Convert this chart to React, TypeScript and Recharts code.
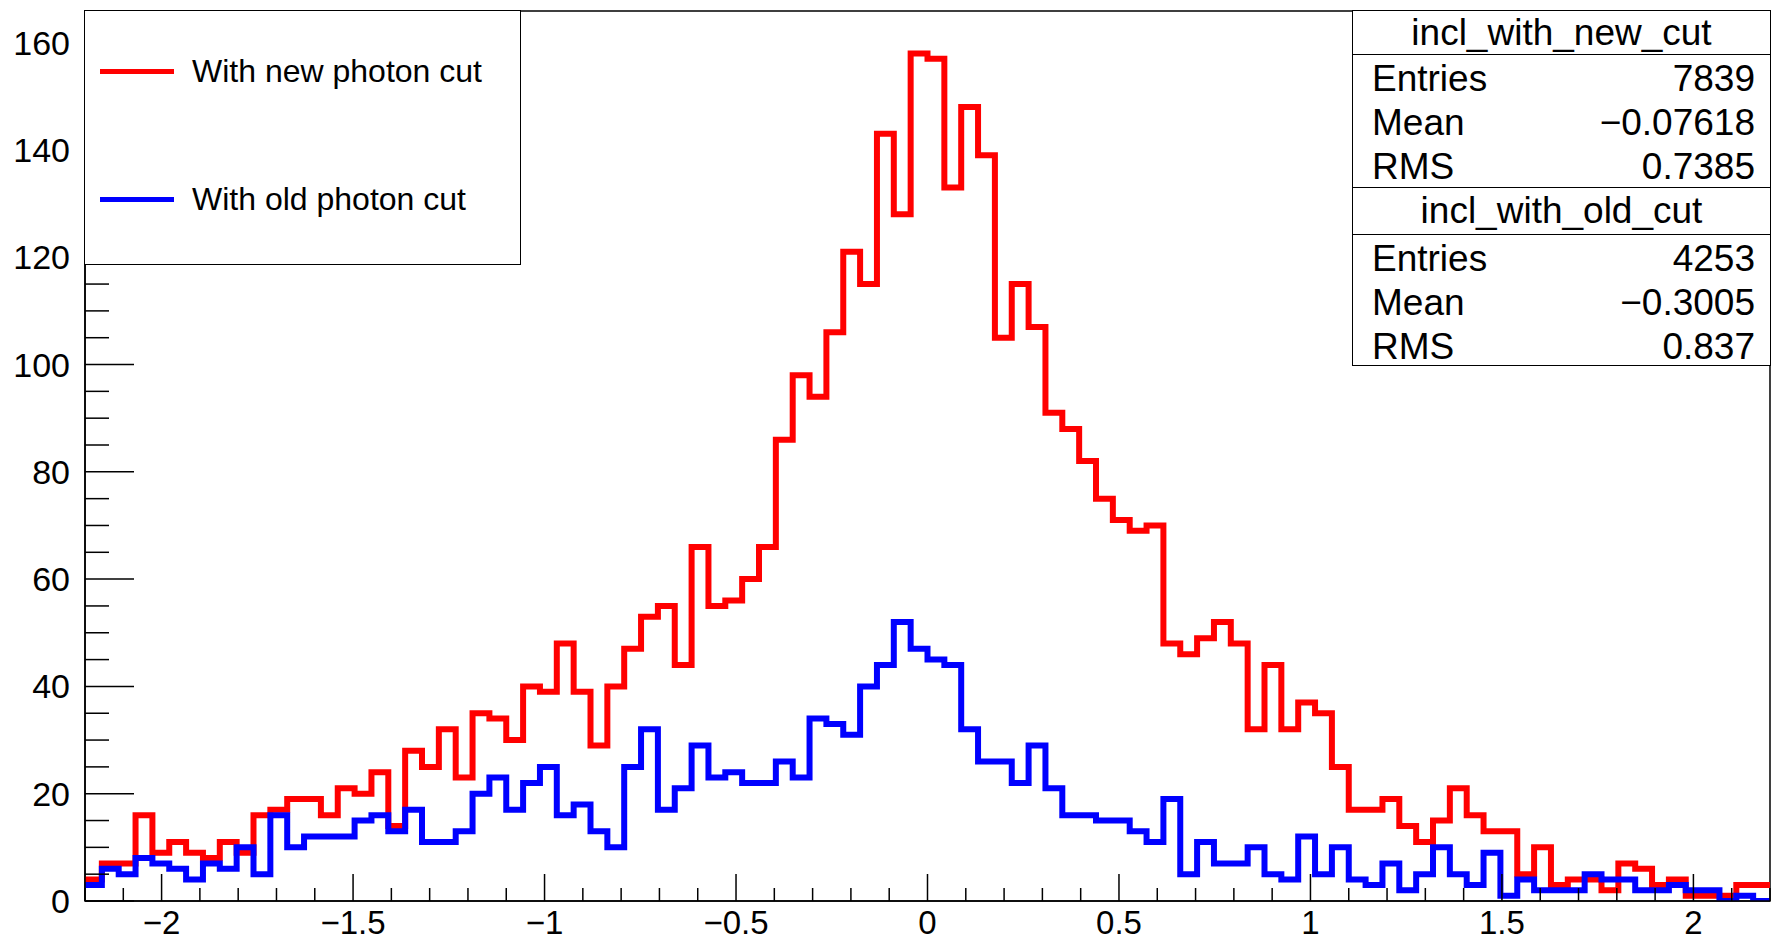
import React from "react";
import { LineChart, Line, XAxis, YAxis, ReferenceArea } from "recharts";

// histogram binning: 100 bins from -2.2 to 2.2
const binLow = -2.2;
const binWidth = 0.044;

// bin contents
const newCut = [
  4, 7, 7, 16, 9, 11, 9, 8, 11, 9,
  16, 17, 19, 19, 16, 21, 20, 24, 14, 28,
  25, 32, 23, 35, 34, 30, 40, 39, 48, 39,
  29, 40, 47, 53, 55, 44, 66, 55, 56, 60,
  66, 86, 98, 94, 106, 121, 115, 143, 128, 158,
  157, 133, 148, 139, 105, 115, 107, 91, 88, 82,
  75, 71, 69, 70, 48, 46, 49, 52, 48, 32,
  44, 32, 37, 35, 25, 17, 17, 19, 14, 11,
  15, 21, 16, 13, 13, 5, 10, 3, 4, 4,
  2, 7, 6, 3, 4, 1, 1, 1, 3, 3,
];

const oldCut = [
  3, 6, 5, 8, 7, 6, 4, 7, 6, 10,
  5, 16, 10, 12, 12, 12, 15, 16, 13, 17,
  11, 11, 13, 20, 23, 17, 22, 25, 16, 18,
  13, 10, 25, 32, 17, 21, 29, 23, 24, 22,
  22, 26, 23, 34, 33, 31, 40, 44, 52, 47,
  45, 44, 32, 26, 26, 22, 29, 21, 16, 16,
  15, 15, 13, 11, 19, 5, 11, 7, 7, 10,
  5, 4, 12, 5, 10, 4, 3, 7, 2, 5,
  10, 5, 3, 9, 1, 4, 2, 2, 2, 5,
  4, 4, 2, 2, 3, 2, 2, 0, 1, 0,
];

const xTicks = [
  -2.2, -2.1, -2, -1.9, -1.8, -1.7, -1.6, -1.5, -1.4, -1.3, -1.2, -1.1, -1,
  -0.9, -0.8, -0.7, -0.6, -0.5, -0.4, -0.3, -0.2, -0.1, 0, 0.1, 0.2, 0.3,
  0.4, 0.5, 0.6, 0.7, 0.8, 0.9, 1, 1.1, 1.2, 1.3, 1.4, 1.5, 1.6, 1.7, 1.8,
  1.9, 2, 2.1, 2.2,
];
const xLabelled = [-2, -1.5, -1, -0.5, 0, 0.5, 1, 1.5, 2];

const yTicks = [
  0, 5, 10, 15, 20, 25, 30, 35, 40, 45, 50, 55, 60, 65, 70, 75, 80, 85, 90,
  95, 100, 105, 110, 115, 120, 125, 130, 135, 140, 145, 150, 155, 160, 165,
];
const yLabelled = [0, 20, 40, 60, 80, 100, 120, 140, 160];

const legendItems = [
  { label: "With new photon cut", color: "#ff0000" },
  { label: "With old photon cut", color: "#0000ff" },
];

const statsNew = { title: "incl_with_new_cut", rows: [["Entries", "7839"], ["Mean", "\u22120.07618"], ["RMS", "0.7385"]] };
const statsOld = { title: "incl_with_old_cut", rows: [["Entries", "4253"], ["Mean", "\u22120.3005"], ["RMS", "0.837"]] };

const data = newCut.map((v, i) => ({
  x: Number((binLow + i * binWidth).toFixed(4)),
  newCut: v,
  oldCut: oldCut[i],
}));
data.push({ x: 2.2, newCut: newCut[newCut.length - 1], oldCut: oldCut[oldCut.length - 1] });

const FONT = '"Liberation Sans", Arial, Helvetica, sans-serif';

const fmt = (v: number) => (v < 0 ? "\u2212" + Math.abs(v) : String(v));
const isIn = (arr: number[], v: number) => arr.some((m) => Math.abs(m - v) < 1e-6);

const XTick = (props: any) => {
  const { x, y, payload } = props;
  const major = isIn(xLabelled, payload.value);
  return (
    <g>
      <line x1={x} x2={x} y1={y} y2={y - (major ? 27 : 13)} stroke="#000" strokeWidth={1.5} />
      {major && (
        <text x={x} y={y + 33} textAnchor="middle" fontSize={33} fontFamily={FONT} fill="#000">
          {fmt(payload.value)}
        </text>
      )}
    </g>
  );
};

const YTick = (props: any) => {
  const { x, y, payload } = props;
  const major = isIn(yLabelled, payload.value);
  return (
    <g>
      <line x1={x} x2={x + (major ? 49 : 24)} y1={y} y2={y} stroke="#000" strokeWidth={1.5} />
      {major && (
        <text x={x - 15} y={y + 12} textAnchor="end" fontSize={34} fontFamily={FONT} fill="#000">
          {payload.value}
        </text>
      )}
    </g>
  );
};

const StatsBox = ({ stats, top, height, sep }: { stats: typeof statsNew; top: number; height: number; sep: number }) => (
  <div
    style={{
      position: "absolute", left: 1352, top, width: 419, height,
      border: "1.5px solid #000", background: "#fff", boxSizing: "border-box",
    }}
  >
    <div style={{ position: "absolute", left: 0, right: 0, top: sep, borderTop: "1.5px solid #000" }} />
    <div style={{ position: "absolute", left: 0, right: 0, top: sep / 2 - 21, textAlign: "center", fontSize: 37, lineHeight: "42px" }}>
      {stats.title}
    </div>
    {stats.rows.map(([k, v], i) => (
      <React.Fragment key={k}>
        <div style={{ position: "absolute", left: 19, top: sep + 4 + i * 44, fontSize: 37, lineHeight: "42px" }}>{k}</div>
        <div style={{ position: "absolute", right: 15, top: sep + 4 + i * 44, fontSize: 37, lineHeight: "42px" }}>{v}</div>
      </React.Fragment>
    ))}
  </div>
);

export default function App() {
  return (
    <div style={{ position: "absolute", left: 0, top: 0, width: 1773, height: 941, background: "#fff", fontFamily: FONT, color: "#000", overflow: "hidden" }}>
      <LineChart width={1773} height={941} data={data} margin={{ top: 11, right: 3, bottom: 0, left: 0 }}>
        <XAxis
          dataKey="x"
          type="number"
          domain={[-2.2, 2.2]}
          ticks={xTicks}
          interval={0}
          height={40}
          tickSize={0}
          tickMargin={0}
          tickLine={false}
          axisLine={{ stroke: "#000", strokeWidth: 1.5 }}
          tick={<XTick />}
          allowDataOverflow
        />
        <YAxis
          type="number"
          domain={[0, 165.9]}
          ticks={yTicks}
          interval={0}
          width={85}
          tickSize={0}
          tickMargin={0}
          tickLine={false}
          axisLine={{ stroke: "#000", strokeWidth: 1.5 }}
          tick={<YTick />}
          allowDataOverflow
        />
        <ReferenceArea x1={-2.2} x2={2.2} y1={0} y2={165.9} fill="none" stroke="#000" strokeWidth={1.5} ifOverflow="visible" />
        <Line
          type="stepAfter"
          dataKey="newCut"
          stroke="#ff0000"
          strokeWidth={6}
          strokeLinejoin="miter"
          dot={false}
          activeDot={false}
          isAnimationActive={false}
        />
        <Line
          type="stepAfter"
          dataKey="oldCut"
          stroke="#0000ff"
          strokeWidth={6}
          strokeLinejoin="miter"
          dot={false}
          activeDot={false}
          isAnimationActive={false}
        />
      </LineChart>

      <div
        style={{
          position: "absolute", left: 84, top: 10, width: 437, height: 255,
          border: "1.5px solid #000", background: "#fff", boxSizing: "border-box",
        }}
      >
        {legendItems.map((it, i) => (
          <div key={it.label} style={{ position: "absolute", left: 15, top: 60 + i * 128 - 20, height: 40, display: "flex", alignItems: "center" }}>
            <div style={{ width: 74, height: 5, background: it.color }} />
            <div style={{ marginLeft: 18, fontSize: 32 }}>{it.label}</div>
          </div>
        ))}
      </div>

      <StatsBox stats={statsNew} top={10} height={179} sep={43} />
      <StatsBox stats={statsOld} top={187} height={179} sep={46} />
    </div>
  );
}
